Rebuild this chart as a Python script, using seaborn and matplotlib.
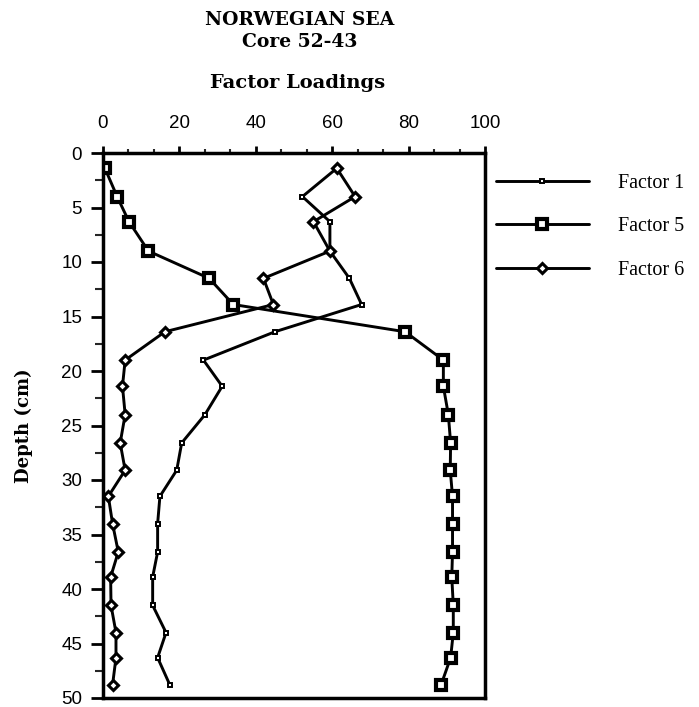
import matplotlib
matplotlib.use("Agg")
import matplotlib.pyplot as plt
from matplotlib.ticker import MultipleLocator
import seaborn as sns
import pandas as pd

# ---- data ----
depth = [1.4, 4.0, 6.3, 9.0, 11.5, 13.9, 16.4, 19.0, 21.4, 24.0,
         26.6, 29.1, 31.5, 34.0, 36.6, 38.9, 41.5, 44.0, 46.3, 48.8]
factor1 = [61.2, 52.2, 59.4, 59.4, 64.5, 67.7, 45.0, 26.3, 31.2, 26.7,
           20.6, 19.3, 14.9, 14.3, 14.3, 13.0, 13.0, 16.5, 14.3, 17.5]
factor5 = [0.5, 3.7, 6.8, 11.9, 27.8, 34.1, 79.1, 89.1, 89.1, 90.4,
           91.0, 90.9, 91.5, 91.5, 91.5, 91.3, 91.7, 91.7, 91.0, 88.5]
factor6 = [61.2, 66.0, 55.1, 59.4, 42.0, 44.6, 16.2, 5.8, 5.1, 5.8,
           4.5, 5.8, 1.4, 2.5, 4.0, 2.0, 2.1, 3.4, 3.4, 2.5]
series_names = ["Factor 1", "Factor 5", "Factor 6"]
x_ticks = [0, 20, 40, 60, 80, 100]
y_ticks = [0, 5, 10, 15, 20, 25, 30, 35, 40, 45, 50]

df = pd.DataFrame({"depth": depth, "Factor 1": factor1,
                   "Factor 5": factor5, "Factor 6": factor6})

sns.set_style("ticks")
plt.rcParams["font.family"] = ["Liberation Sans", "DejaVu Sans"]
plt.rcParams["text.color"] = "black"
plt.rcParams["axes.labelcolor"] = "black"

W, H = 699, 707
fig = plt.figure(figsize=(W / 100, H / 100), dpi=100)
ax = fig.add_axes([103 / W, 1 - 698 / H, (485 - 103) / W, (698 - 153) / H])

styles = {
    "Factor 1": dict(marker="s", ms=3.5, mew=1.4),
    "Factor 5": dict(marker="s", ms=7.5, mew=3.0),
    "Factor 6": dict(marker="D", ms=5.5, mew=2.2),
}
for name in series_names:
    sns.lineplot(data=df, x=name, y="depth", orient="y", sort=False,
                 estimator=None, ax=ax, color="black", lw=2.1,
                 mfc="white", mec="black", label=name, **styles[name])

ax.set_xlim(0, 100)
ax.set_ylim(50, 0)
ax.xaxis.tick_top()
ax.set_xticks(x_ticks)
ax.set_yticks(y_ticks)
ax.xaxis.set_minor_locator(MultipleLocator(20 / 3))
ax.yaxis.set_minor_locator(MultipleLocator(2.5))
ax.tick_params(axis="x", which="major", direction="out", length=5, width=2,
               pad=10, labelsize=13.5, colors="black")
ax.tick_params(axis="x", which="minor", direction="out", length=3, width=1.5)
ax.tick_params(axis="y", which="major", direction="out", length=9, width=2,
               pad=6, labelsize=13.5, colors="black")
ax.tick_params(axis="y", which="minor", direction="out", length=6, width=1.5)
for s in ax.spines.values():
    s.set_visible(True)
    s.set_linewidth(2.5)
    s.set_color("black")

ax.set_xlabel("")
ax.set_ylabel("Depth (cm)", fontsize=13, fontweight="bold",
              family=["DejaVu Serif"], labelpad=20, color="black")

# titles
fig.text(300 / W, 1 - 20 / H, "NORWEGIAN SEA", ha="center", va="center",
         fontsize=13.5, fontweight="bold", family=["DejaVu Serif"], color="black")
fig.text(300 / W, 1 - 42 / H, "Core 52-43", ha="center", va="center",
         fontsize=13.5, fontweight="bold", family=["DejaVu Serif"], color="black")
fig.text(298 / W, 1 - 83 / H, "Factor Loadings", ha="center", va="center",
         fontsize=14, fontweight="bold", family=["DejaVu Serif"], color="black")

leg = ax.legend(loc="upper left", bbox_to_anchor=(496 / W, 1 - 174 / H),
                bbox_transform=fig.transFigure, frameon=False,
                borderpad=0, borderaxespad=0, handlelength=4.6,
                handletextpad=1.45, labelspacing=1.2,
                prop={"family": "Liberation Serif", "size": 14.5})
for t in leg.get_texts():
    t.set_color("black")

fig.savefig("out.png", dpi=100)
